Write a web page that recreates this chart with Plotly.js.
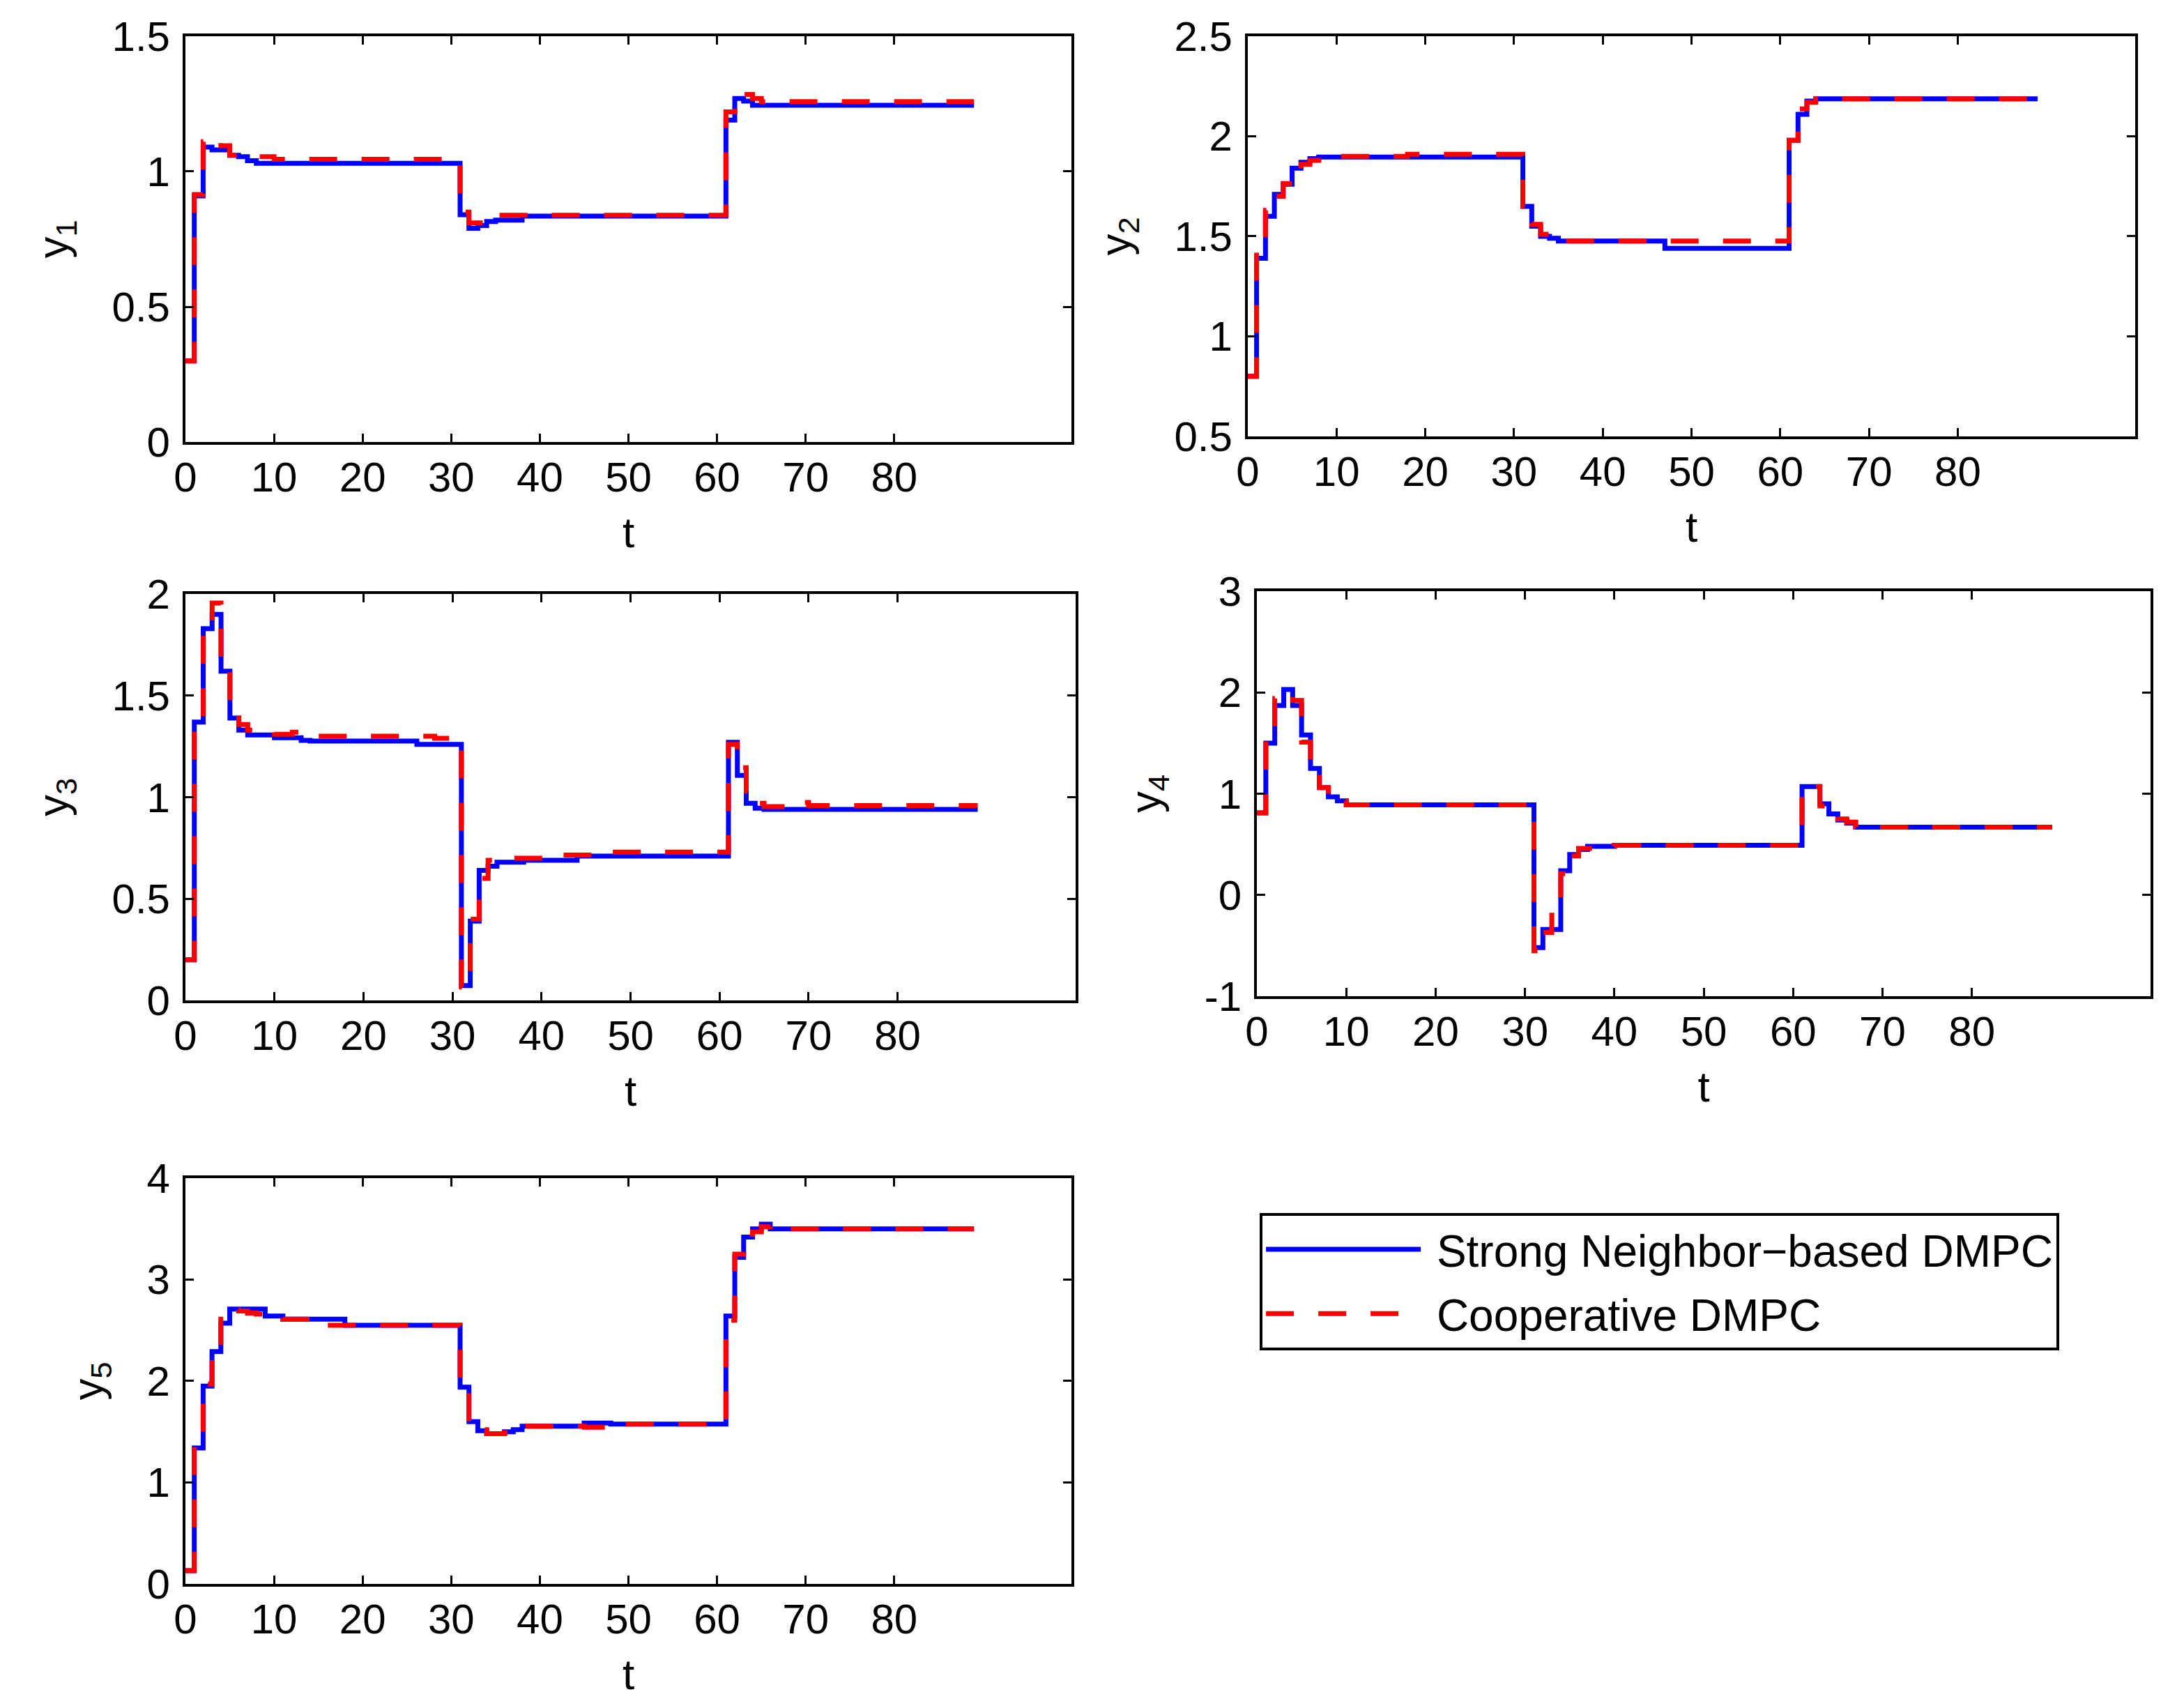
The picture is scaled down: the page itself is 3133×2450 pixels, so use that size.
<!DOCTYPE html>
<html>
<head>
<meta charset="utf-8">
<script src="https://cdn.plot.ly/plotly-3.0.1.min.js"></script>
<style>
  html, body { margin: 0; padding: 0; background: #fff; }
  #myDiv { width: 3133px; height: 2450px; }
</style>
</head>
<body>
<div id="myDiv"></div>
<script>
// Instantes de muestreo donde cambia la escalera
var t1 = [0, 1, 2, 3, 4, 5, 6, 7, 8, 10, 31, 32, 33, 34, 35, 38, 61, 62, 63, 64, 65, 89];
var y1Strong = [0.30, 0.91, 1.09, 1.08, 1.08, 1.06, 1.055, 1.04, 1.03, 1.03, 0.84, 0.79, 0.80, 0.815, 0.82, 0.835, 1.19, 1.27, 1.26, 1.245, 1.245, 1.245];
var y1Coop = [0.30, 0.915, 1.11, 1.12, 1.095, 1.06, 1.055, 1.055, 1.055, 1.045, 0.85, 0.81, 0.81, 0.83, 0.838, 0.838, 1.22, 1.27, 1.285, 1.27, 1.258, 1.258];

var t2 = [0, 1, 2, 3, 4, 5, 6, 7, 8, 18, 31, 32, 33, 34, 35, 47, 61, 62, 63, 64, 89];
var y2Strong = [0.80, 1.39, 1.60, 1.71, 1.76, 1.84, 1.87, 1.888, 1.896, 1.896, 1.65, 1.55, 1.50, 1.49, 1.476, 1.44, 1.98, 2.11, 2.176, 2.187, 2.187];
var y2Coop = [0.80, 1.406, 1.63, 1.70, 1.764, 1.83, 1.86, 1.88, 1.90, 1.91, 1.65, 1.56, 1.51, 1.50, 1.476, 1.476, 1.98, 2.137, 2.17, 2.187, 2.187];

var t3 = [0, 1, 2, 3, 4, 5, 6, 7, 8, 10, 12, 13, 14, 26, 28, 31, 32, 33, 34, 35, 38, 41, 44, 46, 61, 62, 63, 64, 65, 69, 70, 89];
var y3Strong = [0.20, 1.37, 1.83, 1.90, 1.62, 1.39, 1.33, 1.306, 1.306, 1.293, 1.293, 1.28, 1.276, 1.26, 1.26, 0.073, 0.39, 0.64, 0.66, 0.68, 0.69, 0.69, 0.71, 0.71, 1.27, 1.107, 0.97, 0.946, 0.94, 0.94, 0.94, 0.94];
var y3Coop = [0.20, 1.38, 1.844, 1.956, 1.66, 1.43, 1.358, 1.33, 1.32, 1.31, 1.32, 1.32, 1.30, 1.30, 1.29, 0.066, 0.40, 0.60, 0.69, 0.70, 0.70, 0.715, 0.715, 0.73, 1.26, 1.145, 1.03, 0.97, 0.954, 0.974, 0.959, 0.959];

var t4 = [0, 1, 2, 3, 4, 5, 6, 7, 8, 9, 10, 31, 32, 33, 34, 35, 36, 37, 38, 40, 61, 63, 64, 65, 66, 67, 89];
var y4Strong = [0.81, 1.50, 1.87, 2.03, 1.87, 1.58, 1.25, 1.06, 0.97, 0.93, 0.89, -0.52, -0.34, -0.34, 0.24, 0.40, 0.45, 0.48, 0.48, 0.49, 1.07, 0.90, 0.80, 0.74, 0.71, 0.67, 0.67];
var y4Coop = [0.81, 1.53, 1.94, 1.98, 1.92, 1.51, 1.25, 1.06, 0.97, 0.93, 0.89, -0.55, -0.37, 0.0, 0.21, 0.385, 0.46, 0.46, 0.48, 0.49, 1.07, 0.88, 0.82, 0.75, 0.72, 0.67, 0.67];

var t5 = [0, 1, 2, 3, 4, 5, 6, 7, 8, 9, 11, 16, 18, 31, 32, 33, 34, 36, 37, 38, 45, 48, 61, 62, 63, 64, 65, 66, 67, 89];
var y5Strong = [0.13, 1.34, 1.95, 2.29, 2.57, 2.71, 2.71, 2.71, 2.71, 2.64, 2.61, 2.61, 2.55, 1.94, 1.60, 1.51, 1.48, 1.50, 1.52, 1.554, 1.585, 1.576, 2.64, 3.22, 3.42, 3.50, 3.546, 3.50, 3.50, 3.50];
var y5Coop = [0.13, 1.385, 1.97, 2.30, 2.61, 2.70, 2.69, 2.67, 2.66, 2.65, 2.61, 2.55, 2.55, 1.94, 1.57, 1.52, 1.48, 1.49, 1.51, 1.554, 1.545, 1.576, 2.60, 3.25, 3.40, 3.47, 3.52, 3.53, 3.50, 3.50];

var tTicks = [0, 10, 20, 30, 40, 50, 60, 70, 80];
var y4Ticks = [-1, 0, 1, 2, 3];
var y4TickText = ["-1", "0", "1", "2", "3"];
var seriesNames = ["Strong Neighbor\u2212based DMPC", "Cooperative DMPC"];

// Dos trazas (escalera) por subgrafico: azul continua y roja discontinua encima
function pair(t, strong, coop, n) {
  var xa = n == 1 ? "x" : "x" + n;
  var ya = n == 1 ? "y" : "y" + n;
  return [
    {
      x: t, y: strong, xaxis: xa, yaxis: ya,
      type: "scatter", mode: "lines", name: "\u00a0" + seriesNames[0], legendgroup: "a",
      line: { color: "#0000ff", width: 7, shape: "hv" },
      showlegend: n == 1, hoverinfo: "none",
    },
    {
      x: t, y: coop, xaxis: xa, yaxis: ya,
      type: "scatter", mode: "lines", name: "\u00a0" + seriesNames[1], legendgroup: "b",
      line: { color: "#ff0000", width: 7, shape: "hv", dash: "40px,35px" },
      showlegend: n == 1, hoverinfo: "none",
    },
  ];
}

var data = [].concat(
  pair(t1, y1Strong, y1Coop, 1),
  pair(t2, y2Strong, y2Coop, 2),
  pair(t3, y3Strong, y3Coop, 3),
  pair(t4, y4Strong, y4Coop, 4),
  pair(t5, y5Strong, y5Coop, 5)
);

var font = "Liberation Sans, Arial, sans-serif";

function xAxis(dom, anchor) {
  return {
    domain: dom, anchor: anchor, range: [0, 100],
    tickvals: tTicks, ticks: "inside", ticklen: 12, tickwidth: 3, tickcolor: "#000",
    showline: true, mirror: "ticks", linecolor: "#000", linewidth: 4,
    showgrid: false, zeroline: false,
    tickfont: { family: font, size: 60, color: "#000" },
    ticklabelstandoff: -5,
    title: { text: "t", standoff: 26, font: { family: font, size: 62, color: "#000" } },
  };
}

function yAxis(dom, anchor, range, dtick, label) {
  return {
    domain: dom, anchor: anchor, range: range, dtick: dtick, tick0: range[0],
    ticks: "inside", ticklen: 12, tickwidth: 3, tickcolor: "#000",
    showline: true, mirror: "ticks", linecolor: "#000", linewidth: 4,
    showgrid: false, zeroline: false,
    tickfont: { family: font, size: 60, color: "#000" },
    ticklabelstandoff: 6,
    title: { text: label, standoff: 44, font: { family: font, size: 62, color: "#000" } },
  };
}

var yaxis4 = yAxis([0.4167, 0.6539], "x4", [-1, 3], 1, "y<sub>4</sub>");
yaxis4.tickvals = y4Ticks;
yaxis4.ticktext = y4TickText;

var layout = {
  width: 3133, height: 2450, autosize: false,
  margin: { l: 0, r: 0, t: 0, b: 0 },
  paper_bgcolor: "#fff", plot_bgcolor: "#fff",
  font: { family: font, color: "#000" },
  xaxis: xAxis([0.0849, 0.4906], "y"),
  yaxis: yAxis([0.7412, 0.9788], "x", [0, 1.5], 0.5, "y<sub>1</sub>"),
  xaxis2: xAxis([0.5713, 0.9777], "y2"),
  yaxis2: yAxis([0.7445, 0.9788], "x2", [0.5, 2.5], 0.5, "y<sub>2</sub>"),
  xaxis3: xAxis([0.0849, 0.4925], "y3"),
  yaxis3: yAxis([0.4143, 0.6522], "x3", [0, 2], 0.5, "y<sub>3</sub>"),
  xaxis4: xAxis([0.5755, 0.9847], "y4"),
  yaxis4: yaxis4,
  xaxis5: xAxis([0.0849, 0.4906], "y5"),
  yaxis5: yAxis([0.0727, 0.3102], "x5", [0, 4], 1, "y<sub>5</sub>"),
  showlegend: true,
  legend: {
    x: 0.5768, y: 0.2898, xanchor: "left", yanchor: "top",
    bgcolor: "#fff", bordercolor: "#000", borderwidth: 4,
    font: { family: font, size: 64, color: "#000" },
    itemwidth: 222, traceorder: "grouped", tracegroupgap: 6,
  },
};

Plotly.newPlot("myDiv", data, layout, { staticPlot: true });
</script>
</body>
</html>
